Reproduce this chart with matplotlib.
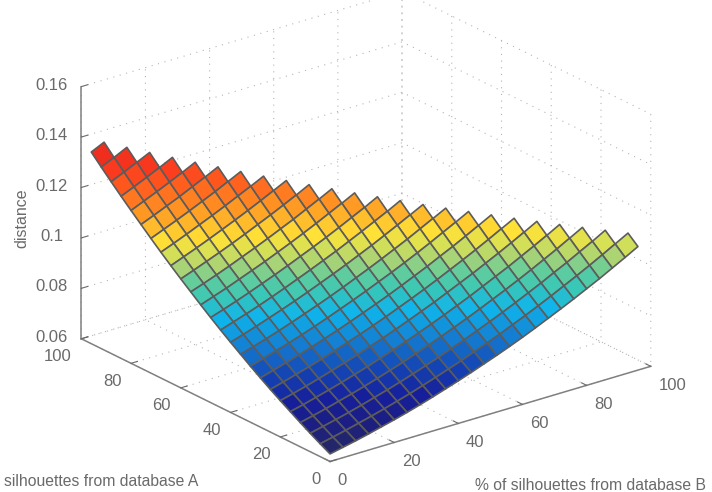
import matplotlib
matplotlib.use('Agg')
import matplotlib.pyplot as plt
from matplotlib.colors import LinearSegmentedColormap, Normalize
from mpl_toolkits.mplot3d.art3d import Poly3DCollection

plt.rcParams['font.family'] = ['Liberation Sans', 'DejaVu Sans']

pct_a = [0, 4, 8, 12, 16, 20, 24, 28, 32, 36, 40, 44, 48, 52, 56, 60, 64, 68, 72, 76, 80, 84, 88, 92, 96]
pct_b = [0, 4, 8, 12, 16, 20, 24, 28, 32, 36, 40, 44, 48, 52, 56, 60, 64, 68, 72, 76, 80, 84, 88, 92, 96]

# distance x 10000, one row per pct_b step, rows get shorter as pct_b grows
distance_e4 = [
    [630, 641, 652, 664, 677, 690, 704, 719, 735, 752, 769, 787, 806, 825, 845, 866, 888, 911, 934, 958, 983, 1008, 1035, 1062, 1090],
    [651, 662, 674, 687, 700, 714, 729, 744, 761, 778, 796, 814, 834, 854, 874, 896, 918, 941, 965, 990, 1015, 1041, 1068, 1096, 1124],
    [673, 685, 697, 710, 724, 739, 754, 770, 787, 805, 823, 842, 862, 883, 904, 926, 949, 973, 997, 1023, 1048, 1075, 1102, 1131],
    [696, 708, 721, 735, 749, 764, 780, 797, 814, 833, 852, 871, 892, 913, 935, 958, 981, 1005, 1030, 1056, 1082, 1110, 1138],
    [720, 732, 746, 760, 775, 791, 807, 825, 843, 861, 881, 901, 922, 944, 966, 990, 1014, 1038, 1064, 1090, 1117, 1145],
    [744, 757, 771, 786, 802, 818, 835, 853, 871, 891, 911, 932, 953, 976, 999, 1022, 1047, 1072, 1098, 1125, 1153],
    [769, 783, 798, 813, 829, 846, 864, 882, 901, 921, 942, 963, 985, 1008, 1032, 1056, 1081, 1107, 1134, 1161],
    [795, 810, 825, 841, 857, 875, 893, 912, 932, 952, 973, 995, 1018, 1041, 1066, 1090, 1116, 1143, 1170],
    [822, 837, 853, 869, 886, 904, 923, 943, 963, 984, 1006, 1028, 1051, 1075, 1100, 1126, 1152, 1179],
    [850, 865, 881, 898, 916, 935, 954, 974, 995, 1017, 1039, 1062, 1086, 1110, 1136, 1162, 1188],
    [878, 894, 911, 929, 947, 966, 986, 1007, 1028, 1050, 1073, 1096, 1121, 1146, 1172, 1198],
    [907, 924, 941, 959, 978, 998, 1019, 1040, 1062, 1084, 1108, 1132, 1157, 1182, 1209],
    [937, 954, 972, 991, 1011, 1031, 1052, 1074, 1096, 1119, 1143, 1168, 1193, 1220],
    [968, 986, 1004, 1024, 1044, 1064, 1086, 1108, 1131, 1155, 1180, 1205, 1231],
    [1000, 1018, 1037, 1057, 1078, 1099, 1121, 1144, 1167, 1192, 1217, 1243],
    [1032, 1051, 1071, 1091, 1112, 1134, 1157, 1180, 1204, 1229, 1255],
    [1065, 1085, 1105, 1126, 1148, 1170, 1193, 1217, 1242, 1267],
    [1099, 1119, 1140, 1162, 1184, 1207, 1231, 1255, 1280],
    [1134, 1155, 1176, 1198, 1221, 1244, 1269, 1294],
    [1170, 1191, 1213, 1235, 1259, 1283, 1308],
    [1206, 1228, 1250, 1273, 1297, 1322],
    [1243, 1265, 1288, 1312, 1337],
    [1281, 1304, 1328, 1352],
    [1320, 1343, 1368],
    [1360, 1384],
]

axis_ticks = [0, 20, 40, 60, 80, 100]
z_ticks = [0.06, 0.08, 0.1, 0.12, 0.14, 0.16]
z_tick_labels = ['0.06', '0.08', '0.1', '0.12', '0.14', '0.16']

GREY = '#6a6a6a'
W, H = 712, 492
DPI = 100

surf_cmap = LinearSegmentedColormap.from_list('surf_jet', [
    (0.00, (35/255, 38/255, 105/255)),
    (0.05, (28/255, 30/255, 130/255)),
    (0.12, (22/255, 30/255, 155/255)),
    (0.20, (20/255, 70/255, 180/255)),
    (0.28, (20/255, 125/255, 210/255)),
    (0.37, (15/255, 180/255, 235/255)),
    (0.44, (60/255, 200/255, 180/255)),
    (0.49, (100/255, 205/255, 155/255)),
    (0.53, (165/255, 210/255, 120/255)),
    (0.58, (215/255, 225/255, 85/255)),
    (0.62, (255/255, 225/255, 55/255)),
    (0.66, (255/255, 195/255, 45/255)),
    (0.72, (255/255, 150/255, 35/255)),
    (0.81, (255/255, 90/255, 30/255)),
    (0.86, (250/255, 60/255, 30/255)),
    (0.92, (240/255, 45/255, 30/255)),
    (1.00, (200/255, 30/255, 30/255)),
])

fig = plt.figure(figsize=(W/DPI, H/DPI), dpi=DPI, facecolor='white')

# big square axes, it runs past the figure edges so the box gets the right scale
side = 617
ax = fig.add_axes([49.2/W, -51.3/H, side/W, side/H], projection='3d', proj_type='ortho')
ax.view_init(elev=22.5, azim=-127.8)
ax.set_box_aspect((406, 406, 273))
ax.patch.set_alpha(0)

ax.set_xlim(0, 100, view_margin=0)
ax.set_ylim(0, 100, view_margin=0)
ax.set_zlim(0.06, 0.16, view_margin=0)

# one quad per grid cell, coloured from its first corner
norm = Normalize(vmin=630, vmax=1384)
polys = []
face_colors = []
for j in range(len(pct_b) - 1):
    for i in range(len(pct_a) - 1 - j):
        row0 = distance_e4[j]
        row1 = distance_e4[j + 1]
        polys.append([
            (pct_a[i], pct_b[j], row0[i] / 1e4),
            (pct_a[i + 1], pct_b[j], row0[i + 1] / 1e4),
            (pct_a[i + 1], pct_b[j + 1], row1[i + 1] / 1e4),
            (pct_a[i], pct_b[j + 1], row1[i] / 1e4),
        ])
        face_colors.append(surf_cmap(norm(row0[i])))

surface = Poly3DCollection(polys, facecolors=face_colors, edgecolors='#5c5c5c', linewidths=1.2)
ax.add_collection3d(surface)

ax.set_xticks(axis_ticks)
ax.set_yticks(axis_ticks)
ax.set_zticks(z_ticks)
ax.set_zticklabels(z_tick_labels)
ax.tick_params(axis='both', labelsize=12, labelcolor=GREY, colors=GREY)
ax.tick_params(axis='x', pad=-1)
ax.tick_params(axis='y', pad=-1)
ax.tick_params(axis='z', pad=4)

for label in ax.get_xticklabels():
    label.set_ha('left')
for label in ax.get_yticklabels():
    label.set_ha('right')
for label in ax.get_zticklabels():
    label.set_va('center')

for axis in (ax.xaxis, ax.yaxis, ax.zaxis):
    axis.pane.fill = False
    axis.pane.set_edgecolor('none')
    axis.line.set_color('#808080')
    axis.line.set_linewidth(1.1)
    axis._axinfo['grid'].update(color='#b5b5b5', linewidth=0.8, linestyle=(0, (1, 5)))
    axis._axinfo['tick'].update(inward_factor=0.0, outward_factor=0.25, linewidth={True: 0.8, False: 0.8})

ax.grid(True)

# axis titles sit in figure space
fig.text(22/W, 1 - 218/H, 'distance', rotation=90, ha='center', va='center', fontsize=11.5, color=GREY)
fig.text(4/W, 1 - 481/H, 'silhouettes from database A', ha='left', va='center', fontsize=11.3, color=GREY)
fig.text(475/W, 1 - 486/H, '% of silhouettes from database B', ha='left', va='center', fontsize=11.3, color=GREY)

fig.savefig('out.png', dpi=DPI)
